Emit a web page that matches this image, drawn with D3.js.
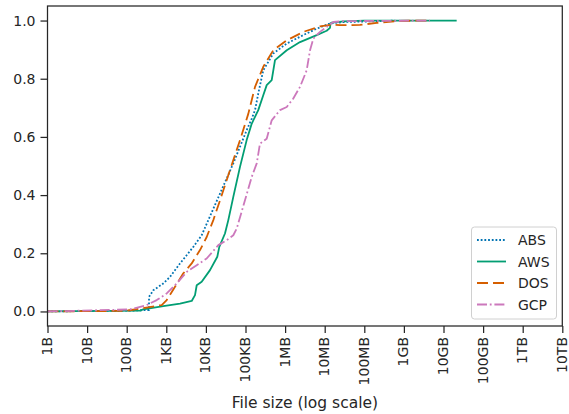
<!DOCTYPE html>
<html><head><meta charset="utf-8">
<script src="https://cdn.jsdelivr.net/npm/d3@7"></script>
<style>body{margin:0;background:#fff}svg{display:block}text{font-family:"DejaVu Sans",sans-serif;fill:#262626}</style>
</head><body>
<svg id="c" width="569" height="414"></svg>
<script>
// File sizes in bytes and CDF values
const absSize = [1,150,340,366,366,470,840,1240,2220,4810,7830,11500,22700,49200,107000,144000,174000,210000,281000,504000,1.10e6,2.88e6,6.28e6,1.36e7,3e7,2.97e8,6e8];
const absCdf  = [0,0.003,0.005,0.005,0.05,0.073,0.096,0.119,0.165,0.222,0.262,0.314,0.405,0.509,0.623,0.663,0.692,0.749,0.829,0.887,0.921,0.95,0.972,0.99,0.995,0.998,1.0];
const awsSize = [1,217,262,840,2220,4380,5310,5860,7830,12700,19400,21800,30300,36800,49200,72600,107000,144000,210000,281000,343000,459000,504000,556000,1.10e6,2.38e6,6.28e6,1.12e7,1.36e7,1.40e7,1.50e7,3e7,1e8,2.15e10];
const awsCdf  = [0,0.003,0.007,0.018,0.027,0.036,0.056,0.09,0.102,0.142,0.188,0.222,0.268,0.314,0.394,0.497,0.589,0.646,0.692,0.743,0.778,0.795,0.829,0.864,0.898,0.926,0.95,0.965,0.975,0.99,0.993,0.997,1.0,1.0];
const dosSize = [1,90,130,217,765,1024,1660,2690,4380,7100,10470,15400,22700,40600,72600,118000,174000,281000,504000,1.10e6,2.88e6,7.60e6,1.65e7,2.43e7,7.78e7,2.06e8,7.98e8,4.56e9];
const dosCdf  = [0,0.002,0.005,0.01,0.022,0.039,0.085,0.131,0.165,0.211,0.256,0.314,0.382,0.486,0.589,0.68,0.772,0.841,0.898,0.932,0.961,0.98,0.986,0.984,0.985,0.992,0.999,1.0];
const gcpSize = [1,121,320,573,1024,1830,3270,5860,10470,20600,33500,49200,60000,97000,144000,192000,232000,343000,459000,743000,1.10e6,1.61e6,2.38e6,3.51e6,4.26e6,5.15e6,7.60e6,1.12e7,1.65e7,3e7,4.56e9];
const gcpCdf  = [0,0.007,0.022,0.039,0.062,0.096,0.136,0.159,0.182,0.228,0.245,0.262,0.285,0.382,0.463,0.509,0.577,0.594,0.657,0.692,0.703,0.732,0.772,0.829,0.898,0.938,0.961,0.978,0.995,0.998,1.0];
const seriesNames = ["ABS","AWS","DOS","GCP"];
const xTickValues = [1,1e1,1e2,1e3,1e4,1e5,1e6,1e7,1e8,1e9,1e10,1e11,1e12,1e13];
const xTickLabels = ["1B","10B","100B","1KB","10KB","100KB","1MB","10MB","100MB","1GB","10GB","100GB","1TB","10TB"];
const yTickValues = [0,0.2,0.4,0.6,0.8,1.0];

const colors = ["#0173b2","#029e73","#d55e00","#cc78bc"];
const lw = 1.8;
const dashes = ["1.8,1.9", null, "11,5", "10,2.8,1.8,2.8"];

const L = 47.5, R = 562.3, T = 6, B = 326;
const x = d3.scaleLog().domain([1,1e13]).range([L,R]);
const y = d3.scaleLinear().domain([-0.05,1.05]).range([B,T]);
const svg = d3.select("#c");

const data = [[absSize,absCdf],[awsSize,awsCdf],[dosSize,dosCdf],[gcpSize,gcpCdf]];
const line = d3.line().x(d => x(d[0])).y(d => y(d[1]));
data.forEach((s,i) => {
  const pts = s[0].map((v,j) => [v, s[1][j]]);
  svg.append("path").attr("d", line(pts)).attr("fill","none")
    .attr("stroke", colors[i]).attr("stroke-width", lw)
    .attr("stroke-dasharray", dashes[i]).attr("stroke-linejoin","round");
});

// axes
const xAxis = d3.axisBottom(x).tickValues(xTickValues).tickFormat((d,i) => xTickLabels[i]).tickSize(7).tickPadding(4);
const gx = svg.append("g").attr("transform",`translate(0,${B})`).call(xAxis);
gx.select(".domain").remove();
gx.selectAll("line").attr("stroke","#262626").attr("stroke-width",1.25);
gx.selectAll("text").attr("font-size",14).attr("fill","#262626")
  .attr("transform","rotate(-90)").attr("text-anchor","end")
  .attr("dominant-baseline","middle").attr("dy", null).attr("x",-11).attr("y",0);

const yAxis = d3.axisLeft(y).tickValues(yTickValues).tickFormat(d3.format(".1f")).tickSize(7).tickPadding(5);
const gy = svg.append("g").attr("transform",`translate(${L},0)`).call(yAxis);
gy.select(".domain").remove();
gy.selectAll("line").attr("stroke","#262626").attr("stroke-width",1.25);
gy.selectAll("text").attr("font-size",14).attr("fill","#262626");

svg.append("rect").attr("x",L).attr("y",T).attr("width",R-L).attr("height",B-T)
  .attr("fill","none").attr("stroke","#262626").attr("stroke-width",1.25);

svg.append("text").attr("x",(L+R)/2).attr("y",408).attr("text-anchor","middle")
  .attr("font-size",15.5).text("File size (log scale)");

// legend
const lg = svg.append("g");
lg.append("rect").attr("x",471.5).attr("y",227).attr("width",85).attr("height",92).attr("rx",3)
  .attr("fill","#fff").attr("fill-opacity",0.8).attr("stroke","#d0d0d0").attr("stroke-width",1);
seriesNames.forEach((n,i) => {
  const yy = 240 + i*21.5;
  lg.append("line").attr("x1",477).attr("x2",506).attr("y1",yy).attr("y2",yy)
    .attr("stroke",colors[i]).attr("stroke-width",lw).attr("stroke-dasharray",dashes[i]);
  lg.append("text").attr("x",518).attr("y",yy).attr("dy","0.36em").attr("font-size",14).text(n);
});
</script>
</body></html>
